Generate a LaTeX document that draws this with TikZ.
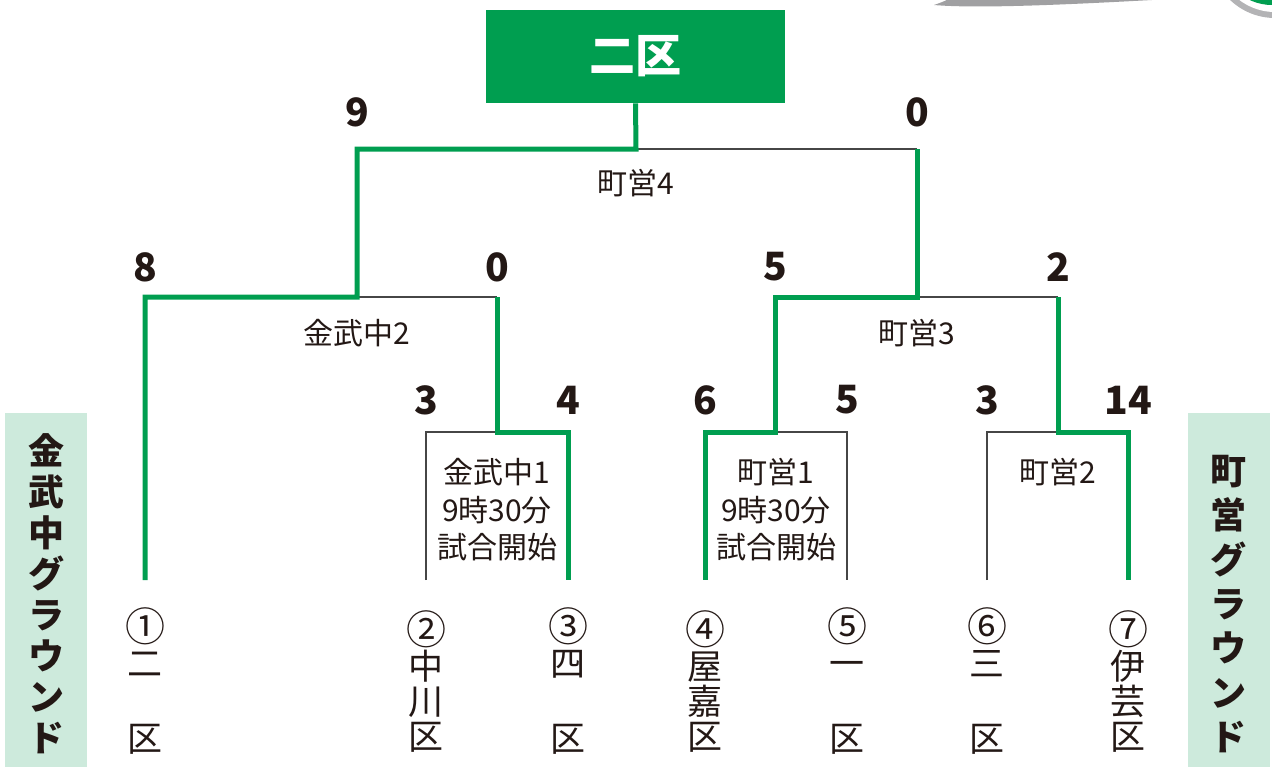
\documentclass[tikz,border=0pt]{standalone}
\usepackage{fontspec}
\setmainfont{Noto Sans CJK JP}
\definecolor{wg}{RGB}{0,158,80}
\definecolor{lg}{RGB}{205,234,220}
\definecolor{ink}{RGB}{35,24,21}
\definecolor{thinc}{RGB}{70,70,70}
\definecolor{swoosh}{RGB}{160,160,162}
\newcommand{\cnum}[1]{{\fontsize{20}{17.5}\selectfont #1}}
\begin{document}
\begin{tikzpicture}[x=0.5pt,y=-0.5pt,
  win/.style={draw=wg,line width=2.5pt,line join=miter},
  lose/.style={draw=thinc,line width=0.7pt},
  score/.style={font=\bfseries\fontsize{19.5}{19.5}\selectfont,text=ink,inner sep=0pt},
  mlabel/.style={font=\fontsize{15}{18.75}\selectfont,text=ink,align=center,inner sep=0pt},
  team/.style={font=\fontsize{17.5}{17.5}\selectfont,text=ink,align=center,inner sep=0pt},
  ground/.style={font=\bfseries\fontsize{18}{20.5}\selectfont,text=ink,align=center,inner sep=0pt},
]
\useasboundingbox (0,0) rectangle (1272,767);
% decoration top right
\begin{scope}
\clip (0,0) rectangle (1272,767);
\fill[swoosh] (934,5) .. controls (980,9) and (1080,4) .. (1170,-1) -- (1170,-10) -- (960,-10) .. controls (948,0) .. (934,5) -- cycle;
\fill[swoosh!80] (1275,-47) circle (65);
\fill[white] (1275,-47) circle (59);
\fill[wg] (1272,-47) circle (52);
\end{scope}
% ground boxes
\fill[lg] (5,413) rectangle (87,767);
\fill[lg] (1188,413) rectangle (1270,767);
\node[ground] (gl) at (46,594) {金\\武\\中\\グ\\ラ\\ウ\\ン\\ド};
\node[ground,font=\bfseries\fontsize{18}{22.15}\selectfont] (gr) at (1228,604) {町\\営\\グ\\ラ\\ウ\\ン\\ド};
% champion
\node[fill=wg,minimum width=149.5pt,minimum height=46.5pt,inner sep=0pt,text=white,font=\bfseries\fontsize{23}{23}\selectfont] (champ) at (635.5,56.5) {二区};
% coordinates
\coordinate (fm) at (636,149); \coordinate (fl) at (357,149); \coordinate (fr) at (917,149);
\coordinate (al) at (145,297); \coordinate (am) at (357,297); \coordinate (ar) at (497,297);
\coordinate (bl) at (775,297); \coordinate (bm) at (917,297); \coordinate (br) at (1058,297);
\coordinate (c1l) at (426,432); \coordinate (c1m) at (497,432); \coordinate (c1r) at (568,432);
\coordinate (c2l) at (705,432); \coordinate (c2m) at (775,432); \coordinate (c2r) at (847,432);
\coordinate (c3l) at (987,432); \coordinate (c3m) at (1058,432); \coordinate (c3r) at (1128,432);
\coordinate (e1) at (145,580); \coordinate (e2) at (426,580); \coordinate (e3) at (568,580);
\coordinate (e4) at (705,580); \coordinate (e5) at (847,580); \coordinate (e6) at (987,580);
\coordinate (e7) at (1128,580);
% losing lines
\draw[lose] (fm) -- (fr);
\draw[lose] (am) -- (ar);
\draw[lose] (bm) -- (br);
\draw[lose] (e2) -- (c1l) -- (c1m);
\draw[lose] (c2m) -- (c2r) -- (e5);
\draw[lose] (e6) -- (c3l) -- (c3m);
% winning lines
\draw[win] (champ.south) -- (fm) -- (fl) -- (am) -- (al) -- (e1);
\draw[win] (fr) -- (bm) -- (bl) -- (c2m) -- (c2l) -- (e4);
\draw[win] (ar) -- (c1m) -- (c1r) -- (e3);
\draw[win] (br) -- (c3m) -- (c3r) -- (e7);
% scores
\node[score] (s1) at (357,112) {9};
\node[score] (s2) at (917,112) {0};
\node[score] (s3) at (145,267) {8};
\node[score] (s4) at (497,267) {0};
\node[score] (s5) at (775,267) {5};
\node[score] (s6) at (1058,267) {2};
\node[score] (s7) at (426,400) {3};
\node[score] (s8) at (568,400) {4};
\node[score] (s9) at (705,400) {6};
\node[score] (s10) at (847,400) {5};
\node[score] (s11) at (987,400) {3};
\node[score] (s12) at (1128,400) {14};
% match labels
\node[mlabel] (m4) at (636,183) {町営4};
\node[mlabel] (m3) at (357,333) {金武中2};
\node[mlabel] (m5) at (917,333) {町営3};
\node[mlabel] (m1) at (497,510) {金武中1\\9時30分\\試合開始};
\node[mlabel] (m2) at (776,510) {町営1\\9時30分\\試合開始};
\node[mlabel] (m6) at (1058,472) {町営2};
% teams
\node[team] (t1) at (145,681) {\cnum{①}\\二\\\strut\\区};
\node[team] (t2) at (426,681) {\cnum{②}\\中\\川\\区};
\node[team] (t3) at (568,681) {\cnum{③}\\四\\\strut\\区};
\node[team] (t4) at (705,681) {\cnum{④}\\屋\\嘉\\区};
\node[team] (t5) at (847,681) {\cnum{⑤}\\一\\\strut\\区};
\node[team] (t6) at (987,681) {\cnum{⑥}\\三\\\strut\\区};
\node[team] (t7) at (1128,681) {\cnum{⑦}\\伊\\芸\\区};
\end{tikzpicture}
\end{document}
